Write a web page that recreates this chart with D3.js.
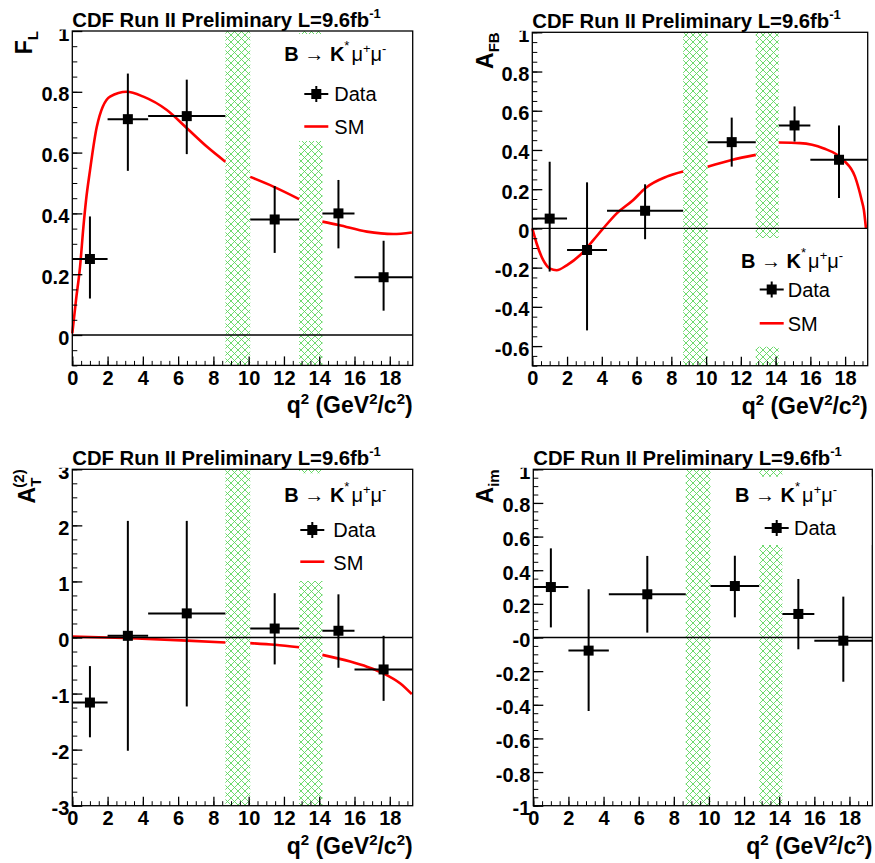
<!DOCTYPE html>
<html>
<head>
<meta charset="utf-8">
<script src="https://cdn.jsdelivr.net/npm/d3@7"></script>
<style>
  body { margin: 0; background: #fff; }
  svg { display: block; }
  text { font-family: "Liberation Sans", Arial, Helvetica, sans-serif; fill: #000; }
</style>
</head>
<body>
<svg id="chart" width="875" height="863"></svg>
<script>
// ---- q^2 binning (GeV^2/c^2) ----
const binLow    = [0, 2, 4.3, 10.09, 14.18, 16];
const binHigh   = [2, 4.3, 8.68, 12.86, 16, 19.3];
const binCenter = [1.0, 3.15, 6.49, 11.475, 15.09, 17.65];
// charmonium veto regions
const vetoBands = [[8.68, 10.09], [12.86, 14.18]];

// ---- F_L ----
const flValue   = [0.25, 0.71, 0.72, 0.38, 0.40, 0.19];
const flErrUp   = [0.14, 0.15, 0.12, 0.11, 0.11, 0.12];
const flErrDown = [0.13, 0.17, 0.125, 0.11, 0.115, 0.11];
const flSM = [
  [[0, 0.005], [0.21, 0.115], [0.44, 0.225], [0.63, 0.356], [0.78, 0.444], [1.0, 0.54], [1.39, 0.685],
   [2.14, 0.784], [3.09, 0.80], [4.03, 0.784], [5.36, 0.74], [6.5, 0.68], [7.64, 0.619], [8.68, 0.57]],
  [[10.09, 0.52], [11.4, 0.488], [12.86, 0.447]],
  [[14.18, 0.373], [15.1, 0.362], [16.7, 0.34], [18.2, 0.332], [19.25, 0.337]]
];

// ---- A_FB ----
const afbValue   = [0.05, -0.11, 0.09, 0.44, 0.525, 0.35];
const afbErrUp   = [0.29, 0.345, 0.135, 0.125, 0.097, 0.175];
const afbErrDown = [0.27, 0.41, 0.145, 0.125, 0.082, 0.195];
const afbSM = [
  [[0, 0], [0.25, -0.077], [0.63, -0.162], [1.02, -0.205], [1.4, -0.213], [1.98, -0.188], [2.74, -0.137],
   [3.51, -0.06], [4.08, 0], [4.86, 0.077], [5.81, 0.145], [6.5, 0.205], [7.73, 0.264], [8.68, 0.29]],
  [[10.09, 0.315], [11.47, 0.349], [12.86, 0.375]],
  [[14.18, 0.438], [15.4, 0.435], [16.74, 0.409], [17.9, 0.349], [18.57, 0.264], [18.95, 0.145],
   [19.08, 0.094], [19.2, 0]]
];

// ---- A_T^(2) ----
const at2Value   = [-1.16, 0.03, 0.43, 0.16, 0.12, -0.57];
const at2ErrUp   = [0.65, 2.05, 1.65, 0.63, 0.65, 0.6];
const at2ErrDown = [0.62, 2.05, 1.66, 0.64, 0.66, 0.56];
const at2SM = [
  [[0, 0.015], [3, -0.01], [6.5, -0.055], [8.68, -0.09]],
  [[10.09, -0.1], [11.5, -0.13], [12.86, -0.175]],
  [[14.18, -0.31], [15.76, -0.43], [16.7, -0.52], [17.64, -0.64], [18.6, -0.82], [19.25, -1.01]]
];

// ---- A_im ----
const aimValue   = [0.30, -0.078, 0.257, 0.306, 0.14, -0.019];
const aimErrUp   = [0.23, 0.365, 0.228, 0.18, 0.208, 0.262];
const aimErrDown = [0.24, 0.359, 0.228, 0.186, 0.21, 0.244];

// ---- axis ticks ----
const xTicks = [0, 2, 4, 6, 8, 10, 12, 14, 16, 18];
const flTicks  = [0, 0.2, 0.4, 0.6, 0.8, 1];
const flLabels = ["0", "0.2", "0.4", "0.6", "0.8", "1"];
const afbTicks  = [-0.6, -0.4, -0.2, 0, 0.2, 0.4, 0.6, 0.8, 1];
const afbLabels = ["-0.6", "-0.4", "-0.2", "0", "0.2", "0.4", "0.6", "0.8", "1"];
const at2Ticks  = [-3, -2, -1, 0, 1, 2, 3];
const at2Labels = ["-3", "-2", "-1", "0", "1", "2", "3"];
const aimTicks  = [-1, -0.8, -0.6, -0.4, -0.2, 0, 0.2, 0.4, 0.6, 0.8, 1];
const aimLabels = ["-1", "-0.8", "-0.6", "-0.4", "-0.2", "-0", "0.2", "0.4", "0.6", "0.8", "1"];

const titleText = "CDF Run II Preliminary L=9.6fb";
const xTitle = ["q", "2", " (GeV", "2", "/c", "2", ")"];

// ---- panel layout ----
const panels = [
  { box: [72.3, 412.7, 31, 365.4], xMax: 19.3, yDom: [-0.1, 1], minor: 0.05,
    ticks: flTicks, labels: flLabels, val: flValue, up: flErrUp, dn: flErrDown, sm: flSM,
    ytitle: [["F", 0], ["L", 1]], ytx: -40,
    leg: { box: [270, 34, 141], hx: 284.3, hy: 61, mx: 316.3, tx: 334.3, rows: [94, 126.5] } },
  { box: [532.3, 867.7, 32.3, 365.7], xMax: 19.3, yDom: [-0.7, 1], minor: 0.05,
    ticks: afbTicks, labels: afbLabels, val: afbValue, up: afbErrUp, dn: afbErrDown, sm: afbSM,
    ytitle: [["A", 0], ["FB", 1]], ytx: -39,
    leg: { box: [727, 238, 346.7], hx: 741, hy: 268.3, mx: 771.7, tx: 787.7, rows: [289.5, 323.3] } },
  { box: [72.3, 412.7, 469.3, 805.7], xMax: 19.3, yDom: [-3, 3], minor: 0.25,
    ticks: at2Ticks, labels: at2Labels, val: at2Value, up: at2ErrUp, dn: at2ErrDown, sm: at2SM,
    ytitle: [["A", 0], ["T", 1], ["(2)", 2]], ytx: -37,
    leg: { box: [270, 473.3, 581], hx: 284.3, hy: 501.7, mx: 312.3, tx: 333.3, rows: [530, 561.7] } },
  { box: [533.3, 872.3, 469.3, 805.7], xMax: 19.3, yDom: [-1, 1], minor: 0.05,
    ticks: aimTicks, labels: aimLabels, val: aimValue, up: aimErrUp, dn: aimErrDown, sm: null,
    ytitle: [["A", 0], ["im", 1]], ytx: -40,
    leg: { box: [721, 476.7, 545], hx: 735, hy: 501.7, mx: 776.7, tx: 794, rows: [528] } }
];

const svg = d3.select("#chart");
const GREEN = "#5ed65e";
const RED = "#ff0000";

// cross-hatch fill for the veto regions
const defs = svg.append("defs");
const pat = defs.append("pattern").attr("id", "hatch")
  .attr("patternUnits", "userSpaceOnUse").attr("width", 7).attr("height", 7);
pat.append("path").attr("d", "M-1,-1 L8,8 M-1,8 L8,-1 M6,-1 L8,1 M-1,6 L1,8")
  .attr("stroke", GREEN).attr("stroke-width", 0.9).attr("fill", "none");

panels.forEach((p, pi) => {
  const [L, R, T, B] = p.box;
  const x = d3.scaleLinear().domain([0, p.xMax]).range([L, R]);
  const y = d3.scaleLinear().domain(p.yDom).range([B, T]);
  const g = svg.append("g");

  // veto bands
  g.selectAll("rect.band").data(vetoBands).join("rect")
    .attr("x", d => x(d[0])).attr("width", d => x(d[1]) - x(d[0]))
    .attr("y", T).attr("height", B - T)
    .attr("fill", "url(#hatch)");

  // SM prediction
  if (p.sm) {
    const line = d3.line().x(d => x(d[0])).y(d => y(d[1])).curve(d3.curveMonotoneX);
    g.selectAll("path.sm").data(p.sm).join("path")
      .attr("d", line).attr("fill", "none").attr("stroke", RED).attr("stroke-width", 2.6);
  }

  // zero line
  g.append("line").attr("x1", L).attr("x2", R).attr("y1", y(0)).attr("y2", y(0))
    .attr("stroke", "#000").attr("stroke-width", 1.3);

  // data points with errors
  const pts = binCenter.map((c, i) => ({ c, lo: binLow[i], hi: binHigh[i], v: p.val[i], u: p.up[i], d: p.dn[i] }));
  const dg = g.append("g").attr("stroke", "#000").attr("stroke-width", 2);
  dg.selectAll("line.h").data(pts).join("line")
    .attr("x1", d => x(d.lo)).attr("x2", d => x(d.hi))
    .attr("y1", d => y(d.v)).attr("y2", d => y(d.v));
  dg.selectAll("line.v").data(pts).join("line")
    .attr("x1", d => x(d.c)).attr("x2", d => x(d.c))
    .attr("y1", d => y(d.v + d.u)).attr("y2", d => y(d.v - d.d));
  g.selectAll("rect.m").data(pts).join("rect")
    .attr("x", d => x(d.c) - 5).attr("y", d => y(d.v) - 5)
    .attr("width", 10).attr("height", 10).attr("fill", "#000");

  // frame
  g.append("rect").attr("x", L).attr("y", T).attr("width", R - L).attr("height", B - T)
    .attr("fill", "none").attr("stroke", "#000").attr("stroke-width", 1.3);

  // axes (ticks pointing inward)
  const tickFont = sel => sel.selectAll("text").attr("font-size", 20).attr("font-weight", "bold")
    .attr("font-family", "Liberation Sans, Arial, sans-serif");
  const xMinor = d3.range(0, p.xMax + 1e-9, 0.5);
  g.append("g").attr("transform", `translate(0,${B})`)
    .call(d3.axisBottom(x).tickValues(xMinor).tickSize(-4.5).tickFormat(""))
    .call(a => a.select(".domain").remove());
  g.append("g").attr("transform", `translate(0,${B})`)
    .call(d3.axisBottom(x).tickValues(xTicks).tickSize(-9).tickPadding(5).tickFormat(d3.format("d")))
    .call(a => a.select(".domain").remove())
    .call(tickFont)
    .call(a => a.selectAll("line").attr("stroke-width", 1.3));

  const nMinor = Math.round((p.yDom[1] - p.yDom[0]) / p.minor);
  const yMinor = d3.range(nMinor + 1).map(k => p.yDom[0] + k * p.minor);
  g.append("g").attr("transform", `translate(${L},0)`)
    .call(d3.axisLeft(y).tickValues(yMinor).tickSize(-5).tickFormat(""))
    .call(a => a.select(".domain").remove());
  g.append("g").attr("transform", `translate(${L},0)`)
    .call(d3.axisLeft(y).tickValues(p.ticks).tickSize(-10).tickPadding(3)
      .tickFormat((d, i) => p.labels[i]))
    .call(a => a.select(".domain").remove())
    .call(tickFont)
    .call(a => a.selectAll("text").attr("dy", "0.45em"))
    .call(a => a.selectAll("line").attr("stroke-width", 1.3));

  // legend
  const lg = p.leg;
  g.append("rect").attr("x", lg.box[0]).attr("y", lg.box[1])
    .attr("width", R - 1 - lg.box[0]).attr("height", lg.box[2] - lg.box[1]).attr("fill", "#fff");
  const ht = g.append("text").attr("x", lg.hx).attr("y", lg.hy).attr("font-size", 20);
  ht.append("tspan").attr("font-weight", "bold").text("B");
  ht.append("tspan").text(" \u2192 ");
  ht.append("tspan").attr("font-weight", "bold").text("K");
  ht.append("tspan").attr("font-size", 13).attr("dy", -11).text("*");
  ht.append("tspan").attr("dy", 11).attr("dx", 2).text("\u03bc");
  ht.append("tspan").attr("font-size", 13).attr("dy", -8).text("+");
  ht.append("tspan").attr("dy", 8).text("\u03bc");
  ht.append("tspan").attr("font-size", 13).attr("dy", -8).text("-");

  const dy0 = lg.rows[0];
  g.append("line").attr("x1", lg.mx - 12).attr("x2", lg.mx + 12).attr("y1", dy0).attr("y2", dy0)
    .attr("stroke", "#000").attr("stroke-width", 2);
  g.append("line").attr("x1", lg.mx).attr("x2", lg.mx).attr("y1", dy0 - 8).attr("y2", dy0 + 8)
    .attr("stroke", "#000").attr("stroke-width", 2);
  g.append("rect").attr("x", lg.mx - 5).attr("y", dy0 - 5).attr("width", 10).attr("height", 10).attr("fill", "#000");
  g.append("text").attr("x", lg.tx).attr("y", dy0 + 7.3).attr("font-size", 20).text("Data");
  if (lg.rows.length > 1) {
    const sy = lg.rows[1];
    g.append("line").attr("x1", lg.mx - 12).attr("x2", lg.mx + 12).attr("y1", sy).attr("y2", sy)
      .attr("stroke", RED).attr("stroke-width", 2.6);
    g.append("text").attr("x", lg.tx).attr("y", sy + 7.8).attr("font-size", 20).text("SM");
  }

  // title
  g.append("rect").attr("x", L - 14).attr("y", T - 30).attr("width", 330).attr("height", 28.5).attr("fill", "#fff");
  const tt = g.append("text").attr("x", L).attr("y", T - 4.3).attr("font-size", 20.3).attr("font-weight", "bold");
  tt.append("tspan").text(titleText);
  tt.append("tspan").attr("font-size", 13).attr("dy", -9).text("-1");

  // x-axis title
  const xt = g.append("text").attr("x", R).attr("y", B + 48).attr("text-anchor", "end")
    .attr("font-size", 23).attr("font-weight", "bold");
  xTitle.forEach((s, i) => {
    const sup = i % 2 === 1;
    xt.append("tspan").attr("font-size", sup ? 15 : 23)
      .attr("dy", sup ? -9 : (i > 0 ? 9 : 0)).text(s);
  });

  // y-axis title
  const yt = g.append("text").attr("transform", `translate(${L + p.ytx},${T}) rotate(-90)`)
    .attr("text-anchor", "end").attr("font-weight", "bold").attr("font-size", 23);
  p.ytitle.forEach(([s, kind]) => {
    const ts = yt.append("tspan").text(s);
    if (kind === 1) ts.attr("font-size", 15).attr("dy", 6);
    if (kind === 2) ts.attr("font-size", 15).attr("dy", -17).attr("dx", -10);
  });
});
</script>
</body>
</html>
